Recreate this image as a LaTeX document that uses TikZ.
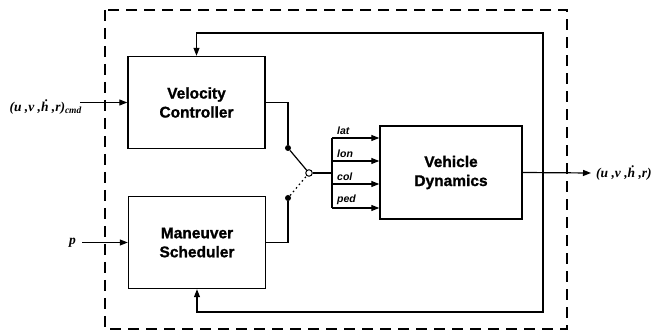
\documentclass[tikz,border=0pt]{standalone}
\usepackage{fontspec}
\setmainfont{Liberation Sans}
\newfontfamily\serlbl{Liberation Serif}
\newfontfamily\heavy[FakeBold=1.2]{Liberation Sans Bold}
\usetikzlibrary{arrows.meta}
\tikzset{
 blk/.style={draw, line width=1.4pt, minimum width=137pt, minimum height=92pt, inner sep=0pt, align=center, font=\heavy\fontsize{15.5}{19}\selectfont},
 conn/.style={line width=1.2pt},
 arr/.style={conn, -{Triangle[length=8pt,width=6pt]}},
 sig/.style={font=\fontsize{10.5}{12}\selectfont\bfseries\itshape, inner sep=0pt},
 mlbl/.style={font=\serlbl\fontsize{13.5}{15}\selectfont\bfseries\itshape, inner sep=0pt},
 jdot/.style={circle, fill, inner sep=0pt, minimum size=6pt},
 hdot/.style={circle, draw, fill=white, line width=1pt, inner sep=0pt, minimum size=6.5pt},
 frame/.style={line width=1.4pt, dash pattern=on 11pt off 7pt},
}
\begin{document}
\begin{tikzpicture}[x=1pt,y=-1pt]
\useasboundingbox (0,0) rectangle (659,336);
\draw[frame] (105,10) rectangle (567,329);

\node[blk] (vc) at (196.5,102.5) {Velocity\\Controller};
\node[blk] (ms) at (197,242.5) {Maneuver\\Scheduler};
\node[blk, minimum width=142pt, minimum height=93pt] (vd) at (451,172.5) {Vehicle\\Dynamics};

% inputs
\coordinate (in1) at (80,102.5);
\node[mlbl, anchor=east] (l1) at (82,107) {(u ,v ,ḣ ,r)\textsubscript{cmd}};
\draw[arr] (in1) -- (vc.west);
\coordinate (in2) at (82,242.5);
\node[mlbl, anchor=east] (l2) at (76,242.5) {p};
\draw[arr] (in2) -- (ms.west);

% switch
\node[jdot] (da) at (288,148) {};
\node[jdot] (db) at (288,198) {};
\node[hdot] (sw) at (309,173) {};
\draw[conn] (vc.east) -| (da);
\draw[conn] (ms.east) -| (db);
\draw[conn] (da) -- (sw);
\draw[conn, dash pattern=on 1.6pt off 3pt] (db) -- (sw);
\coordinate (bus) at (332,173);
\draw[conn] (sw) -- (bus);
\coordinate (bt) at (332,138);
\coordinate (bb) at (332,208);
\draw[conn] (bt) -- (bb);
\foreach \yy/\lb [count=\i] in {138/lat,161/lon,184/col,208/ped}{
  \coordinate (s\i) at (332,\yy);
  \draw[arr] (s\i) -- (vd.west |- s\i);
  \node[sig, anchor=south west] (t\i) at (337,\yy-3) {\lb};
}

% output
\coordinate (out) at (591,173);
\draw[arr] (vd.east) -- (out);
\node[mlbl, anchor=west] (l3) at (596,173) {(u ,v ,ḣ ,r)};

% feedback
\coordinate (j) at (543,173);
\coordinate (ft) at (543,33);
\coordinate (fb) at (543,312);
\draw[arr] (j) -- (ft) -| (vc.north);
\draw[arr] (j) -- (fb) -| (ms.south);
\end{tikzpicture}
\end{document}
